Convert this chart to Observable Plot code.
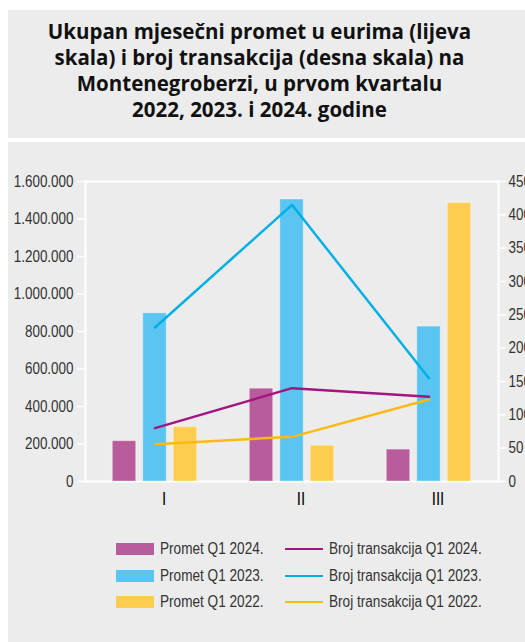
<!DOCTYPE html>
<html>
<head>
<meta charset="utf-8">
<script src="https://cdn.jsdelivr.net/npm/d3@7"></script>
<script src="https://cdn.jsdelivr.net/npm/@observablehq/plot@0.6"></script>
<style>
  html, body { margin: 0; padding: 0; background: #ffffff; }
  #page { position: relative; width: 525px; height: 642px; overflow: hidden; }
  #titlebox {
    position: absolute; left: 8px; top: 10px; width: 517px; height: 128px;
    background: #ececec; box-sizing: border-box; padding: 8px 14px 0 0;
    font-family: "Open Sans", Lato, sans-serif; font-weight: 700; font-size: 20.5px;
    line-height: 26px; text-align: center; color: #111;
  }
  #chartbox {
    position: absolute; left: 8px; top: 142px; width: 517px; height: 500px;
    background: #ececec; overflow: hidden;
  }
  #chartbox svg { display: block; }
  #legend { position: absolute; left: 0; top: 392px; width: 517px; color: #333; font-size: 16px;
    font-family: "Liberation Sans", Arial, sans-serif; }
  .item { position: absolute; height: 20px; display: flex; align-items: center; white-space: nowrap; }
  .sw { width: 38px; height: 12px; margin-right: 6px; flex: none; }
  .ln { width: 38px; height: 2.5px; margin-right: 6px; flex: none; }
  .tx { display: inline-block; transform: scaleX(0.85); transform-origin: left center; }
</style>
</head>
<body>
<div id="page">
  <div id="titlebox">Ukupan mjesečni promet u eurima (lijeva<br>skala) i broj transakcija (desna skala) na<br>Montenegroberzi, u prvom kvartalu<br>2022, 2023. i 2024. godine</div>
  <div id="chartbox">
    <div id="plot"></div>
    <div id="legend"></div>
  </div>
</div>
<script>
// ---- data ----
const months = ["I", "II", "III"];
const barSeries = ["Promet Q1 2024.", "Promet Q1 2023.", "Promet Q1 2022."];
const lineSeries = ["Broj transakcija Q1 2024.", "Broj transakcija Q1 2023.", "Broj transakcija Q1 2022."];
const promet2024 = [215000, 495000, 170000];
const promet2023 = [897000, 1504000, 826000];
const promet2022 = [290000, 191000, 1485000];
const broj2024 = [80, 140, 127];
const broj2023 = [231, 415, 155];
const broj2022 = [56, 67, 123];
const leftTicks = [0, 200000, 400000, 600000, 800000, 1000000, 1200000, 1400000, 1600000];
const rightTicks = [0, 50, 100, 150, 200, 250, 300, 350, 400, 450];

const barColors = ["#b95c9c", "#5bc5f1", "#fecd50"];
const lineColors = ["#a3157f", "#00b0e4", "#fbb913"];

const leftMax = 1600000, rightMax = 450;
const k = leftMax / rightMax;

const barValues = [promet2024, promet2023, promet2022];
const lineValues = [broj2024, broj2023, broj2022];

const barData = [];
barValues.forEach((vals, s) => vals.forEach((v, i) => barData.push({month: months[i], series: barSeries[s], s, value: v})));
const lineData = [];
lineValues.forEach((vals, s) => vals.forEach((v, i) => lineData.push({month: months[i], series: lineSeries[s], s, value: v})));

const fmtLeft = d => d3.format(",")(d).replace(/,/g, ".");
const offsets = [-30.5, 0, 30.5];
const inset = 56.8;

const fontFam = '"Liberation Sans", Arial, sans-serif';

const marks = [
  Plot.frame({stroke: "white", strokeWidth: 2}),
  ...barSeries.map((name, s) => Plot.barY(barData.filter(d => d.s === s), {
    x: "month", y: "value", fill: barColors[s], dx: offsets[s],
    insetLeft: inset, insetRight: inset, stroke: "white", strokeOpacity: 0.35, strokeWidth: 1
  })),
  ...lineSeries.map((name, s) => Plot.line(lineData.filter(d => d.s === s), {
    x: "month", y: d => d.value * k, stroke: lineColors[s], strokeWidth: 2.5
  })),
  Plot.axisY(leftTicks, {anchor: "left", tickSize: 8, tickPadding: 4, stroke: "white", strokeWidth: 1.5, fill: "#333", tickFormat: fmtLeft, fontSize: 16}),
  Plot.axisY(rightTicks.map(v => v * k), {anchor: "right", tickSize: 7, tickPadding: 3, stroke: "white", strokeWidth: 1.5, fill: "#333", tickFormat: d => String(Math.round(d / k)), fontSize: 16}),
  Plot.axisX({tickSize: 0, tickPadding: 10, dx: 9, fill: "black", fontSize: 19})
];

const chart = Plot.plot({
  width: 517, height: 379,
  marginLeft: 77, marginRight: 27, marginTop: 39, marginBottom: 40,
  style: {background: "transparent", fontFamily: fontFam, overflow: "visible"},
  x: {domain: months, padding: 0, axis: null, label: null},
  y: {domain: [0, leftMax], axis: null, label: null},
  marks
});

// condense axis tick labels horizontally (stand-in for a condensed typeface)
function condense(sel, sx) {
  chart.querySelectorAll(sel).forEach(t => {
    const tr = t.getAttribute("transform");
    if (tr && tr.includes("translate")) {
      t.setAttribute("transform", tr + ` scale(${sx},1)`);
    } else {
      const x = +(t.getAttribute("x") || 0), y = +(t.getAttribute("y") || 0);
      t.removeAttribute("x"); t.removeAttribute("y");
      t.setAttribute("transform", `translate(${x},${y}) scale(${sx},1)` + (tr ? " " + tr : ""));
    }
  });
}
condense('[aria-label="y-axis tick label"] text', 0.84);
condense('[aria-label="x-axis tick label"] text', 0.8);
document.getElementById("plot").appendChild(chart);

// legend
const legend = document.getElementById("legend");
const rowTops = [5, 32, 58];
barSeries.forEach((name, s) => {
  const it = document.createElement("div");
  it.className = "item";
  it.style.left = "108px"; it.style.top = rowTops[s] + "px";
  it.innerHTML = `<span class="sw" style="background:${barColors[s]}"></span><span class="tx">${name}</span>`;
  legend.appendChild(it);
});
lineSeries.forEach((name, s) => {
  const it = document.createElement("div");
  it.className = "item";
  it.style.left = "277px"; it.style.top = rowTops[s] + "px";
  it.innerHTML = `<span class="ln" style="background:${lineColors[s]}"></span><span class="tx">${name}</span>`;
  legend.appendChild(it);
});
</script>
</body>
</html>
